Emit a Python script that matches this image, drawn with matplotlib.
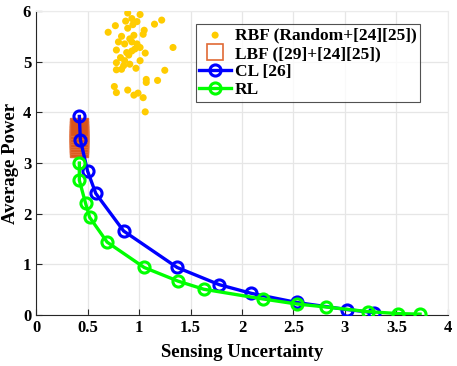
import numpy as np
import matplotlib
matplotlib.use("Agg")
import matplotlib.pyplot as plt
from matplotlib.lines import Line2D

# RBF scatter (random placement)
rbf_x = [0.89, 1.01, 0.93, 0.87, 0.98, 0.94, 0.77, 1.22, 1.15, 0.70, 1.05, 1.04,
         0.89, 0.83, 0.80, 0.95, 0.91, 0.86, 0.98, 1.01, 0.78, 1.06, 0.93, 0.90,
         1.33, 0.82, 1.01, 0.78, 0.86, 0.91, 0.83, 0.78, 0.97, 0.85, 1.25, 1.07,
         1.07, 1.18, 0.76, 0.78, 0.89, 0.95, 0.99, 1.04, 1.06, 0.93, 0.96, 0.88]
rbf_y = [5.96, 5.93, 5.85, 5.80, 5.79, 5.73, 5.71, 5.82, 5.74, 5.58, 5.62, 5.54,
         5.66, 5.50, 5.39, 5.52, 5.45, 5.35, 5.35, 5.28, 5.23, 5.17, 5.21, 5.13,
         5.28, 5.08, 5.02, 4.98, 5.02, 4.95, 4.85, 4.84, 4.87, 4.92, 4.83, 4.65,
         4.59, 4.63, 4.51, 4.39, 4.44, 4.34, 4.38, 4.29, 4.01, 5.39, 5.25, 5.18]

# LBF cluster
lbf_x = [0.42, 0.42, 0.42, 0.42, 0.42, 0.42, 0.42, 0.42, 0.42]
lbf_y = [3.30, 3.35, 3.40, 3.45, 3.50, 3.55, 3.60, 3.65, 3.72]

# CL [26]
cl_x = [0.42, 0.43, 0.50, 0.58, 0.85, 1.37, 1.78, 2.09, 2.53, 3.02, 3.28]
cl_y = [3.92, 3.46, 2.84, 2.40, 1.66, 0.94, 0.60, 0.43, 0.25, 0.11, 0.05]

# RL
rl_x = [0.42, 0.42, 0.48, 0.52, 0.69, 1.05, 1.38, 1.63, 2.20, 2.53, 2.82, 3.22, 3.52, 3.73]
rl_y = [3.00, 2.66, 2.21, 1.93, 1.44, 0.94, 0.67, 0.51, 0.32, 0.22, 0.16, 0.07, 0.03, 0.02]

plt.rcParams['font.family'] = ['Liberation Serif', 'DejaVu Serif']
plt.rcParams['font.weight'] = 'bold'

fig = plt.figure(figsize=(4.57, 3.66), dpi=100)
ax = fig.add_axes([0.079, 0.139, 0.901, 0.831])

ax.scatter(rbf_x, rbf_y, s=26, color='#FFCC00', edgecolors='none', zorder=3,
           label='RBF (Random+[24][25])')
ax.plot(lbf_x, lbf_y, 's', ms=12.5, mfc='#D95319', mec='#E06A35', mew=1.0,
        linestyle='none', zorder=3, label='LBF ([29]+[24][25])')
ax.plot(cl_x, cl_y, '-o', color='#0000FF', lw=2.4, ms=8, mfc='none', mew=2.2,
        zorder=4, label='CL [26]')
ax.plot(rl_x, rl_y, '-o', color='#00FF00', lw=2.4, ms=8, mfc='none', mew=2.2,
        zorder=5, label='RL')

ax.set_xlim(0, 4)
ax.set_ylim(0, 6)
ax.set_xticks(np.arange(0, 4.01, 0.5))
ax.set_xticklabels(['0', '0.5', '1', '1.5', '2', '2.5', '3', '3.5', '4'])
ax.set_yticks(range(7))
ax.tick_params(direction='in', labelsize=12, color='#262626', length=4)
for lab in ax.get_xticklabels() + ax.get_yticklabels():
    lab.set_fontweight('bold')
ax.grid(True, color='#E6E6E6', lw=0.9)
ax.set_axisbelow(True)
ax.spines['left'].set_color('#262626')
ax.spines['bottom'].set_color('#262626')
ax.spines['top'].set_color('#EBEBEB')
ax.spines['right'].set_color('#EBEBEB')

ax.set_xlabel('Sensing Uncertainty', fontsize=13.5, fontweight='bold', labelpad=6)
ax.set_ylabel('Average Power', fontsize=13.5, fontweight='bold', labelpad=3)

# legend with hollow square for LBF
handles, labels = ax.get_legend_handles_labels()
handles[1] = Line2D([], [], marker='s', ms=12, mfc='none', mec='#E06A35',
                    mew=1.2, linestyle='none')
leg = ax.legend(handles, labels, loc='upper right', bbox_to_anchor=(0.932, 0.957),
                prop={'weight': 'bold', 'size': 12.5},
                frameon=True, fancybox=False, edgecolor='#262626',
                handlelength=1.85, handletextpad=0.2, borderpad=0.2,
                labelspacing=0.12, borderaxespad=0)
leg.get_frame().set_linewidth(0.8)

fig.savefig('out.png', dpi=100)
